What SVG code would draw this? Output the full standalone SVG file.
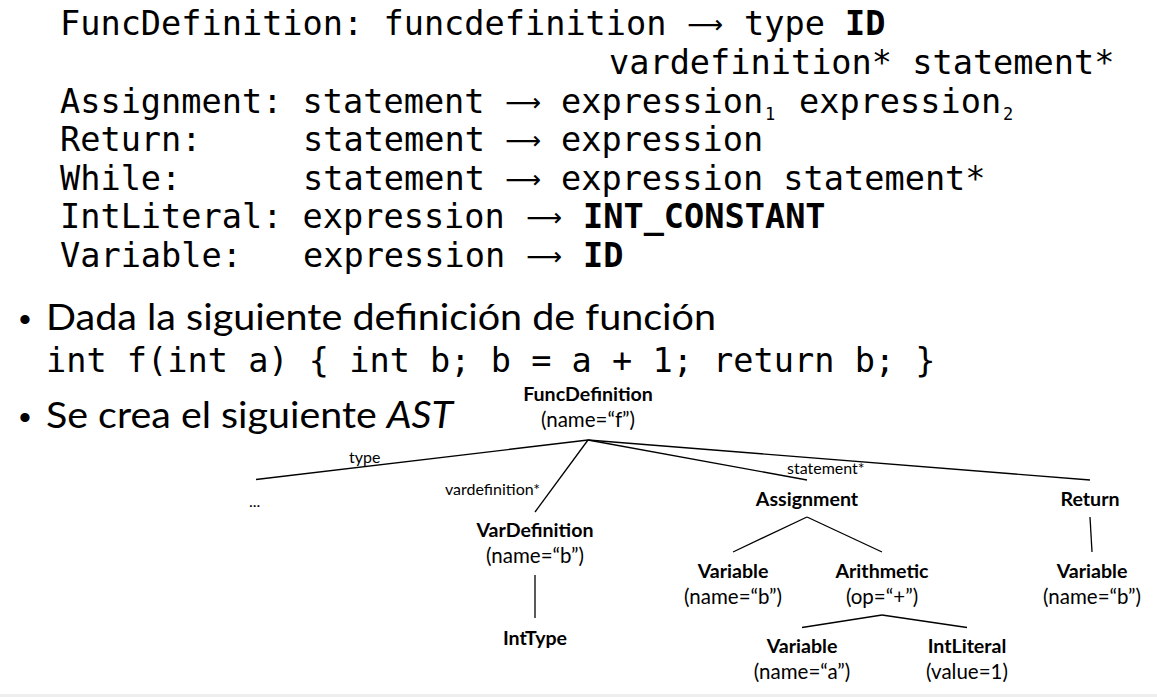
<svg xmlns="http://www.w3.org/2000/svg" width="1157" height="697" viewBox="0 0 1157 697">
<style>
.m{font-family:"DejaVu Sans Mono","Liberation Mono",monospace;font-size:33.6px;fill:#000}
.b{font-weight:bold}
.ar{font-family:"DejaVu Sans",sans-serif;font-size:25px;text-anchor:middle}
.sub{font-family:"DejaVu Sans Mono",monospace;font-size:17px}
.t{font-family:Lato,"Open Sans",sans-serif;font-size:36px;fill:#000}
.bu{font-family:"Liberation Sans",sans-serif;font-size:34px;fill:#000}
.n{font-family:Lato,"Open Sans",sans-serif;font-size:20.5px;text-anchor:middle;fill:#000}
.nb{font-weight:bold;font-size:19.6px}
.e{font-family:Lato,"Open Sans",sans-serif;font-size:16px;fill:#000}
.c line{stroke:#000;stroke-width:1.3}
</style>
<rect width="1157" height="697" fill="#fff"/>
<rect y="694" width="1157" height="3" fill="#eeeeee"/>
<g id="grammar">
<text class="m" x="60" y="35">FuncDefinition: funcdefinition</text>
<text class="ar" x="705" y="33">⟶</text>
<text class="m" x="744" y="35">type</text>
<text class="m b" x="845" y="35">ID</text>
<text class="m" x="609" y="74">vardefinition* statement*</text>
<text class="m" x="60" y="112.5">Assignment: statement</text>
<text class="ar" x="523" y="110.5">⟶</text>
<text class="m" x="561" y="112.5">expression</text>
<text class="sub" x="765" y="120">1</text>
<text class="m" x="799" y="112.5">expression</text>
<text class="sub" x="1003" y="120">2</text>
<text class="m" x="60" y="151">Return:</text>
<text class="m" x="303" y="151">statement</text>
<text class="ar" x="523" y="149">⟶</text>
<text class="m" x="561" y="151">expression</text>
<text class="m" x="60" y="190">While:</text>
<text class="m" x="303" y="190">statement</text>
<text class="ar" x="523" y="188">⟶</text>
<text class="m" x="561" y="190">expression statement*</text>
<text class="m" x="60" y="228">IntLiteral: expression</text>
<text class="ar" x="544" y="226">⟶</text>
<text class="m b" x="583" y="228">INT_CONSTANT</text>
<text class="m" x="60" y="267">Variable:</text>
<text class="m" x="303" y="267">expression</text>
<text class="ar" x="544" y="265">⟶</text>
<text class="m b" x="583" y="267">ID</text>
</g>
<g id="bullets">
<text class="bu" x="19" y="331">•</text>
<text class="t" x="46" y="330" textLength="670" lengthAdjust="spacingAndGlyphs">Dada la siguiente definición de función</text>
<text class="m" x="46" y="372">int f(int a) { int b; b = a + 1; return b; }</text>
<text class="bu" x="19" y="429">•</text>
<text class="t" x="46" y="428" textLength="407" lengthAdjust="spacingAndGlyphs">Se crea el siguiente <tspan font-style="italic">AST</tspan></text>
</g>
<g id="connectors" class="c">
<line x1="588" y1="440" x2="256" y2="479.5"/>
<line x1="588" y1="440" x2="535" y2="512"/>
<line x1="588" y1="440" x2="807" y2="480"/>
<line x1="588" y1="440" x2="1090" y2="480"/>
<line x1="535" y1="575" x2="535" y2="618"/>
<line x1="807" y1="517" x2="733" y2="552"/>
<line x1="807" y1="517" x2="882" y2="552"/>
<line x1="1090" y1="517" x2="1092" y2="552"/>
<line x1="882" y1="615" x2="802" y2="627.5"/>
<line x1="882" y1="615" x2="967" y2="627.5"/>
</g>
<g id="edge-labels">
<text class="e" x="349" y="463">type</text>
<text class="e" x="445" y="495">vardefinition*</text>
<text class="e" x="787" y="474">statement*</text>
<text class="e" x="249" y="507">...</text>
</g>
<g id="n-funcdef"><text class="n nb" x="588" y="401">FuncDefinition</text><text class="n" x="588" y="427">(name=“f”)</text></g>
<g id="n-vardef"><text class="n nb" x="535" y="537">VarDefinition</text><text class="n" x="535" y="563">(name=“b”)</text></g>
<g id="n-inttype"><text class="n nb" x="535" y="645">IntType</text></g>
<g id="n-assign"><text class="n nb" x="807" y="506">Assignment</text></g>
<g id="n-return"><text class="n nb" x="1090" y="506">Return</text></g>
<g id="n-var-b"><text class="n nb" x="733" y="578">Variable</text><text class="n" x="733" y="604">(name=“b”)</text></g>
<g id="n-arith"><text class="n nb" x="882" y="578">Arithmetic</text><text class="n" x="882" y="604">(op=“+”)</text></g>
<g id="n-var-b2"><text class="n nb" x="1092" y="578">Variable</text><text class="n" x="1092" y="604">(name=“b”)</text></g>
<g id="n-var-a"><text class="n nb" x="802" y="653">Variable</text><text class="n" x="802" y="679">(name=“a”)</text></g>
<g id="n-intlit"><text class="n nb" x="967" y="653">IntLiteral</text><text class="n" x="967" y="679">(value=1)</text></g>
</svg>
